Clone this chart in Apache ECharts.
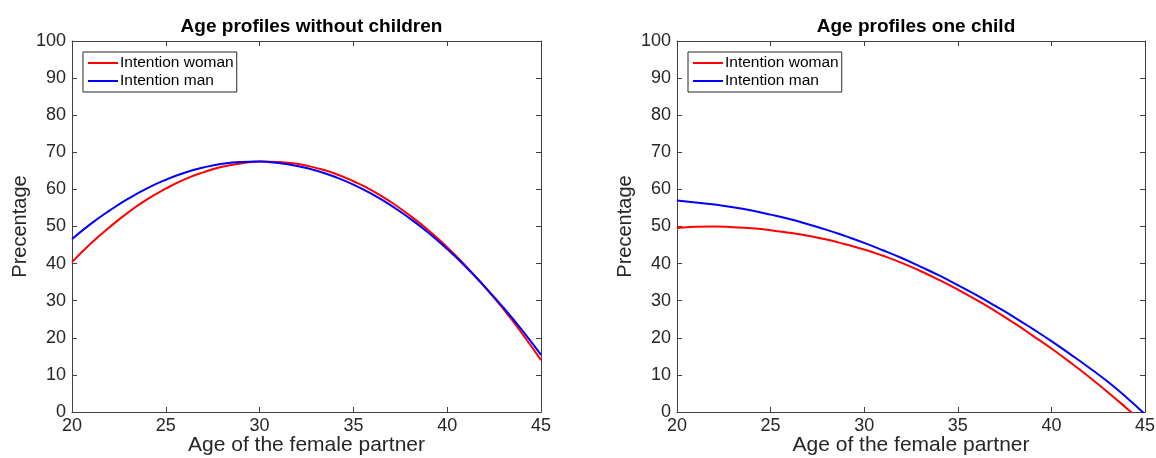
<!DOCTYPE html>
<html>
<head>
<meta charset="utf-8">
<script src="https://cdn.jsdelivr.net/npm/echarts@6/dist/echarts.min.js"></script>
<style>
  html, body { margin: 0; padding: 0; background: #fff; }
  #chart { width: 1156px; height: 458px; }
</style>
</head>
<body>
<div id="chart"></div>
<script>
// Age of the female partner (years)
const ages = [20,21,22,23,24,25,26,27,28,29,30,31,32,33,34,35,36,37,38,39,40,41,42,43,44,45];

// Childless couples: intention to have a child (%)
const noChildWoman = [40.4,45.4,49.8,53.8,57.3,60.2,62.7,64.6,66.1,67.0,67.5,67.4,66.9,65.8,64.3,62.2,59.7,56.6,53.0,49.0,44.4,39.3,33.7,27.7,21.1,14.0];
const noChildMan   = [46.6,50.7,54.3,57.5,60.3,62.6,64.5,65.9,66.9,67.4,67.5,67.1,66.3,65.1,63.4,61.3,58.7,55.7,52.2,48.3,43.9,39.1,33.8,28.1,22.0,15.4];

// Couples with one child: intention to have another (%)
const oneChildWoman = [49.6,49.9,50.0,49.8,49.5,49.0,48.3,47.5,46.5,45.2,43.8,42.1,40.2,38.0,35.6,33.0,30.2,27.2,24.0,20.6,17.1,13.4,9.5,5.4,1.1,-3.3];
const oneChildMan   = [57.0,56.5,55.9,55.2,54.3,53.2,52.0,50.6,49.1,47.4,45.6,43.6,41.5,39.2,36.8,34.2,31.5,28.6,25.6,22.4,19.1,15.6,12.0,8.2,4.0,-0.6];

const titles = ['Age profiles without children', 'Age profiles one child'];
const xTicks = { min: 20, max: 45, interval: 5 };
const yTicks = { min: 0, max: 100, interval: 10 };

const FONT = '"Liberation Sans", Arial, Helvetica, sans-serif';
const AXIS_COLOR = '#404040';
const TEXT_COLOR = '#262626';

const pair = (xs, ys) => xs.map((x, i) => [x, ys[i]]);

const grids = [
  { left: 72, top: 41, width: 469, height: 371, outerBoundsMode: 'none', containLabel: false },
  { left: 677, top: 41, width: 468, height: 371, outerBoundsMode: 'none', containLabel: false }
];

const axisLine = { show: true, onZero: false, lineStyle: { color: AXIS_COLOR, width: 1 } };
const axisTick = { show: true, inside: true, length: 5, lineStyle: { color: AXIS_COLOR } };

const xAxis = [], yAxis = [], title = [], legend = [];
grids.forEach((g, i) => {
  xAxis.push({
    type: 'value', gridIndex: i, position: 'bottom', ...xTicks,
    name: 'Age of the female partner', nameLocation: 'middle', nameGap: 23, nameMoveOverlap: false,
    nameTextStyle: { fontFamily: FONT, fontSize: 21, color: TEXT_COLOR },
    axisLine, axisTick, splitLine: { show: false },
    axisLabel: { fontFamily: FONT, fontSize: 18, color: TEXT_COLOR, margin: 5 }
  });
  xAxis.push({
    type: 'value', gridIndex: i, position: 'top', ...xTicks,
    axisLine, axisTick, splitLine: { show: false }, axisLabel: { show: false }
  });
  yAxis.push({
    type: 'value', gridIndex: i, position: 'left', ...yTicks,
    name: 'Precentage', nameLocation: 'middle', nameGap: 42, nameMoveOverlap: false, nameRotate: 90,
    nameTextStyle: { fontFamily: FONT, fontSize: 20, color: TEXT_COLOR },
    axisLine, axisTick, splitLine: { show: false },
    axisLabel: { fontFamily: FONT, fontSize: 18, color: TEXT_COLOR, margin: 6 }
  });
  yAxis.push({
    type: 'value', gridIndex: i, position: 'right', ...yTicks,
    axisLine, axisTick, splitLine: { show: false }, axisLabel: { show: false }
  });
  title.push({
    text: titles[i], left: g.left + g.width / 2, top: 12, textAlign: 'center',
    textStyle: { fontFamily: FONT, fontSize: 19, fontWeight: 'bold', color: '#000' }
  });
  legend.push({
    orient: 'vertical', left: g.left + 11, top: 52,
    data: ['Intention woman', 'Intention man'],
    icon: 'rect', itemWidth: 30, itemHeight: 2, itemGap: 2,
    padding: [3, 3, 3, 5],
    borderColor: '#262626', borderWidth: 1, backgroundColor: '#fff',
    textStyle: { fontFamily: FONT, fontSize: 15.5, color: '#000', lineHeight: 15, padding: [0, 0, 0, -3] }
  });
});

const lineSeries = (name, color, data, idx) => ({
  type: 'line', name, data, xAxisIndex: idx * 2, yAxisIndex: idx * 2,
  smooth: true, showSymbol: false, symbol: 'none', clip: true,
  lineStyle: { color, width: 2 }, itemStyle: { color }
});

const chart = echarts.init(document.getElementById('chart'), null, { renderer: 'canvas' });
chart.setOption({
  animation: false,
  backgroundColor: '#fff',
  grid: grids,
  title, legend, xAxis, yAxis,
  series: [
    lineSeries('Intention woman', '#ff0000', pair(ages, noChildWoman), 0),
    lineSeries('Intention man', '#0000ff', pair(ages, noChildMan), 0),
    lineSeries('Intention woman', '#ff0000', pair(ages, oneChildWoman), 1),
    lineSeries('Intention man', '#0000ff', pair(ages, oneChildMan), 1)
  ]
});
</script>
</body>
</html>
